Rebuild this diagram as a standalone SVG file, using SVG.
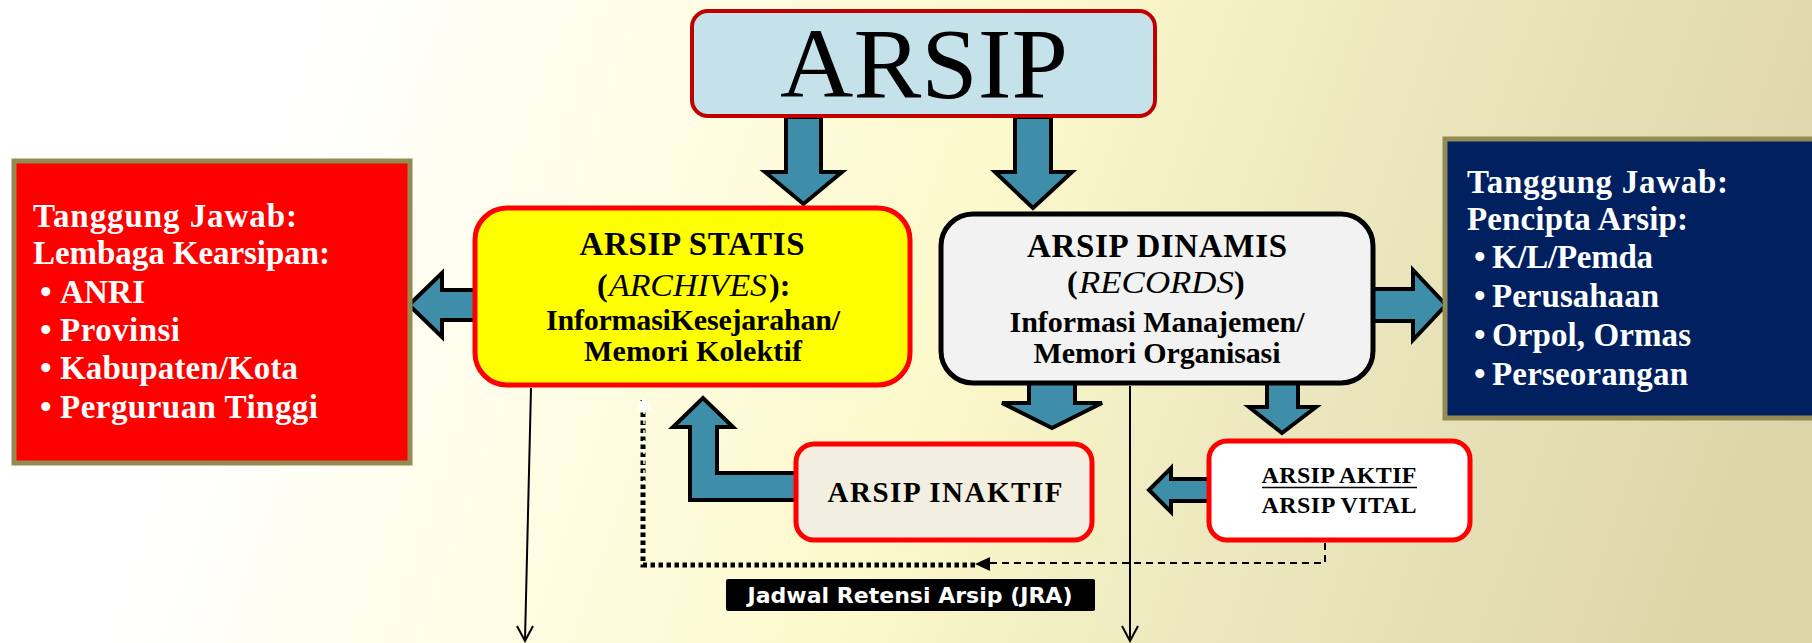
<svg xmlns="http://www.w3.org/2000/svg" width="1812" height="643" viewBox="0 0 1812 643">
<defs>
<linearGradient id="bg" gradientUnits="userSpaceOnUse" x1="300" y1="60" x2="1750" y2="560">
<stop offset="0" stop-color="#ffffff"/>
<stop offset="0.22" stop-color="#fffde6"/>
<stop offset="0.45" stop-color="#fcf9cc"/>
<stop offset="0.7" stop-color="#ebe6bd"/>
<stop offset="1" stop-color="#dcd5a8"/>
</linearGradient>
<style>
.arr{fill:#3f8ea9;stroke:#000;stroke-width:4;stroke-linejoin:miter}
.ser{font-family:"Liberation Serif","DejaVu Serif",serif;font-weight:bold}
.ttl{font-size:33px;fill:#000;text-anchor:middle}
.sub{font-size:30px;fill:#000;text-anchor:middle}
.par{font-size:32px;fill:#000}
.ita{font-family:"Liberation Serif","DejaVu Serif",serif;font-style:italic;font-size:32px;fill:#000}
.wt{font-size:33px;fill:#fff}
.line{fill:none;stroke:#000;stroke-width:2}
</style>
</defs>
<rect width="1812" height="643" fill="url(#bg)"/>

<g id="connectors">
<polygon class="arr" points="786,117 821,117 821,172 842,172 803.5,204 765,172 786,172"/>
<polygon class="arr" points="1015,117 1051,117 1051,172 1072,172 1033,208 995,172 1015,172"/>
<polygon class="arr" points="475,290 442,290 442,273 409,305 442,337 442,320 475,320"/>
<polygon class="arr" points="1373,289 1413,289 1413,270 1446,305 1413,340 1413,321 1373,321"/>
<polygon class="arr" points="1029,383 1075,383 1075,403 1102,403 1052,428 1002,403 1029,403"/>
<polygon class="arr" points="1267,383 1298,383 1298,407 1316,407 1282,433 1249,407 1267,407"/>
<polygon class="arr" points="1209,479 1171,479 1171,468 1149,490 1171,512 1171,501 1209,501"/>
<polygon class="arr" points="796,473 717,473 717,427 733,427 703,398 673,427 690,427 690,500 796,500"/>
<path class="line" d="M531,388 L525,640"/>
<path class="line" d="M517,626 L525,641 L533,626"/>
<path class="line" d="M1130,386 V640"/>
<path class="line" d="M1122,626 L1130,641 L1138,626"/>
<path d="M1325,543 V563 H988" fill="none" stroke="#000" stroke-width="2" stroke-dasharray="7 5"/>
<polygon points="975,564 990,557 990,571" fill="#000"/>
<path d="M975,565 H643 V400" fill="none" stroke="#000" stroke-width="5" stroke-dasharray="4.5 3.5"/>
<path d="M644,410 V490" fill="none" stroke="#fff" stroke-width="1.5" stroke-dasharray="4 6"/>
<polygon points="644,396 637,410 651,410" fill="#fff"/>
</g>

<g id="arsip">
<rect x="692" y="11" width="463" height="105" rx="16" fill="#c5e1e9" stroke="#c00000" stroke-width="4"/>
<text x="924" y="97" font-family="Liberation Serif,DejaVu Serif,serif" font-size="100" text-anchor="middle" textLength="288" lengthAdjust="spacingAndGlyphs">ARSIP</text>
</g>

<g id="statis">
<rect x="475" y="208" width="435" height="177" rx="32" fill="#ffff00" stroke="#ff0000" stroke-width="5"/>
<text class="ser ttl" x="692" y="255" textLength="225">ARSIP STATIS</text>
<text class="ser par" x="597" y="296">(</text>
<text class="ita" x="609" y="296" textLength="158" lengthAdjust="spacingAndGlyphs">ARCHIVES</text>
<text class="ser par" x="769" y="296">):</text>
<text class="ser sub" x="693" y="330" textLength="294">InformasiKesejarahan/</text>
<text class="ser sub" x="693" y="361" textLength="218">Memori Kolektif</text>
</g>

<g id="dinamis">
<rect x="941" y="214" width="432" height="169" rx="32" fill="#f2f2f2" stroke="#000" stroke-width="5"/>
<text class="ser ttl" x="1157" y="257" textLength="260">ARSIP DINAMIS</text>
<text class="ser par" x="1067" y="293">(</text>
<text class="ita" x="1079" y="293" textLength="155" lengthAdjust="spacingAndGlyphs">RECORDS</text>
<text class="ser par" x="1234" y="293">)</text>
<text class="ser sub" x="1157" y="332" textLength="295">Informasi Manajemen/</text>
<text class="ser sub" x="1157" y="363" textLength="247">Memori Organisasi</text>
</g>

<g id="lembaga">
<rect x="14" y="161" width="396" height="302" fill="#ff0000" stroke="#948a54" stroke-width="5"/>
<g class="ser wt">
<text x="33" y="227" textLength="264">Tanggung  Jawab:</text>
<text x="33" y="264" textLength="297">Lembaga Kearsipan:</text>
<text x="40" y="303">•</text><text x="60" y="303" textLength="85">ANRI</text>
<text x="40" y="341">•</text><text x="60" y="341" textLength="120">Provinsi</text>
<text x="40" y="379">•</text><text x="60" y="379" textLength="238">Kabupaten/Kota</text>
<text x="40" y="418">•</text><text x="60" y="418" textLength="258">Perguruan Tinggi</text>
</g>
</g>

<g id="pencipta">
<rect x="1445" y="139" width="380" height="279" fill="#002060" stroke="#948a54" stroke-width="5"/>
<g class="ser wt">
<text x="1467" y="193" textLength="261">Tanggung  Jawab:</text>
<text x="1467" y="230" textLength="221">Pencipta Arsip:</text>
<text x="1474" y="268">•</text><text x="1492" y="268" textLength="161">K/L/Pemda</text>
<text x="1474" y="307">•</text><text x="1492" y="307" textLength="167">Perusahaan</text>
<text x="1474" y="346">•</text><text x="1492" y="346" textLength="199">Orpol, Ormas</text>
<text x="1474" y="385">•</text><text x="1492" y="385" textLength="196">Perseorangan</text>
</g>
</g>

<g id="inaktif">
<rect x="796" y="444" width="296" height="96" rx="18" fill="#f3efe0" stroke="#ff0000" stroke-width="5"/>
<text class="ser" x="945" y="502" font-size="29" text-anchor="middle" textLength="235">ARSIP  INAKTIF</text>
</g>

<g id="aktif">
<rect x="1209" y="441" width="261" height="99" rx="18" fill="#ffffff" stroke="#ff0000" stroke-width="5"/>
<text class="ser" x="1339" y="483" font-size="24" text-anchor="middle" textLength="155">ARSIP AKTIF</text>
<line x1="1262" y1="487.5" x2="1417" y2="487.5" stroke="#000" stroke-width="1.5"/>
<text class="ser" x="1339" y="513" font-size="24" text-anchor="middle" textLength="155">ARSIP VITAL</text>
</g>

<g id="jra">
<rect x="726" y="579" width="369" height="32" rx="2" fill="#000"/>
<text x="910" y="603" font-family="DejaVu Sans,Verdana,sans-serif" font-weight="bold" font-size="21" fill="#fff" text-anchor="middle" textLength="325" lengthAdjust="spacingAndGlyphs">Jadwal Retensi Arsip (JRA)</text>
</g>
</svg>
